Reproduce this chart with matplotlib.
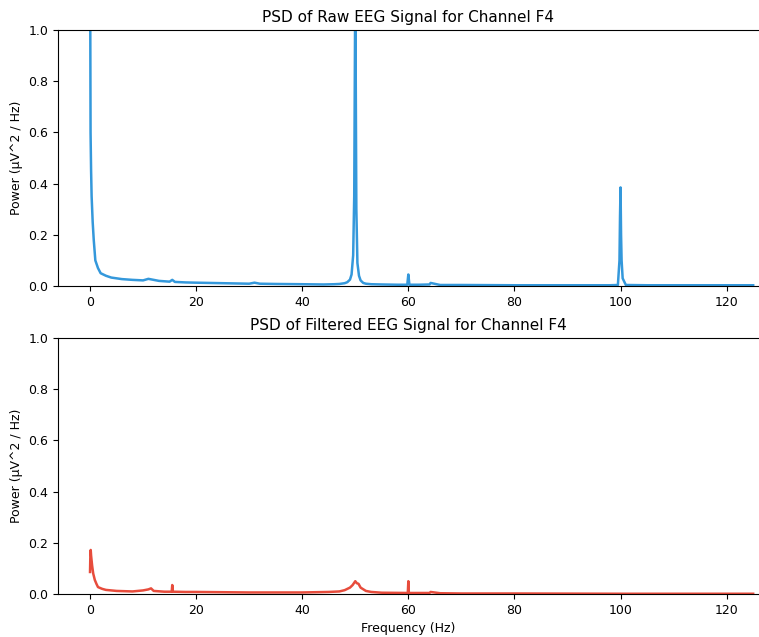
import matplotlib
matplotlib.use('Agg')
import matplotlib.pyplot as plt

# PSD values (Hz, uV^2/Hz)
raw_freq = [0, 0.05, 0.1, 0.2, 0.3, 0.5, 0.7, 1.0, 1.5, 2, 3, 4, 5, 6, 8, 10, 11, 12,
            13, 15, 15.5, 16, 18, 20, 25, 30, 31, 32, 35, 40, 44, 46, 47, 48, 48.5,
            49, 49.3, 49.6, 49.8, 50, 50.2, 50.4, 50.7, 51, 51.5, 52, 53, 55, 58,
            59.8, 60, 60.2, 62, 64, 64.2, 66, 70, 80, 90, 98, 99.5, 99.8, 99.9, 100,
            100.1, 100.2, 100.4, 101, 105, 110, 120, 125]
raw_power = [1.6, 1.0, 0.6, 0.45, 0.35, 0.25, 0.18, 0.1, 0.07, 0.05, 0.04, 0.033,
             0.03, 0.027, 0.024, 0.022, 0.028, 0.024, 0.02, 0.017, 0.024, 0.016,
             0.014, 0.013, 0.011, 0.009, 0.013, 0.009, 0.008, 0.007, 0.006, 0.007,
             0.008, 0.011, 0.015, 0.025, 0.045, 0.12, 0.35, 1.2, 0.3, 0.09, 0.04,
             0.022, 0.012, 0.009, 0.007, 0.006, 0.005, 0.005, 0.045, 0.005, 0.005,
             0.006, 0.012, 0.004, 0.004, 0.003, 0.003, 0.003, 0.004, 0.1, 0.27,
             0.385, 0.2, 0.1, 0.03, 0.004, 0.003, 0.003, 0.003, 0.003]

filt_freq = [0, 0.05, 0.13, 0.2, 0.4, 0.6, 0.9, 1.2, 1.5, 2.3, 3, 5, 8, 10, 11,
             11.5, 12, 14, 15.4, 15.5, 15.6, 18, 20, 30, 40, 45, 47, 48, 49, 49.5,
             50, 50.3, 50.6, 51, 52, 53, 55, 59.9, 60, 60.1, 62, 64, 64.2, 66, 70,
             80, 90, 100, 110, 125]
filt_power = [0.086, 0.14, 0.172, 0.15, 0.11, 0.08, 0.055, 0.04, 0.027, 0.02,
              0.016, 0.012, 0.01, 0.014, 0.018, 0.022, 0.012, 0.009, 0.009, 0.035,
              0.009, 0.008, 0.008, 0.006, 0.006, 0.008, 0.01, 0.015, 0.025, 0.035,
              0.05, 0.042, 0.04, 0.025, 0.012, 0.008, 0.005, 0.004, 0.05, 0.004,
              0.004, 0.004, 0.008, 0.003, 0.002, 0.002, 0.0015, 0.001, 0.001, 0.001]

fig = plt.figure(figsize=(7.59, 6.37), dpi=100)
ax1 = fig.add_axes([0.0764, 0.551, 0.9236, 0.402])
ax2 = fig.add_axes([0.0764, 0.0675, 0.9236, 0.402])

ax1.plot(raw_freq, raw_power, color='#3498db', linewidth=1.8)
ax1.set_title('PSD of Raw EEG Signal for Channel F4', fontsize=11)
ax2.plot(filt_freq, filt_power, color='#e74c3c', linewidth=1.8)
ax2.set_title('PSD of Filtered EEG Signal for Channel F4', fontsize=11)
ax2.set_xlabel('Frequency (Hz)', fontsize=9)

for ax in (ax1, ax2):
    ax.set_xlim(-6.04, 126.1)
    ax.set_ylim(0, 1)
    ax.set_ylabel('Power (μV^2 / Hz)', fontsize=9)
    ax.spines['right'].set_visible(False)
    ax.tick_params(labelsize=9)

plt.savefig('out.png', dpi=100)
